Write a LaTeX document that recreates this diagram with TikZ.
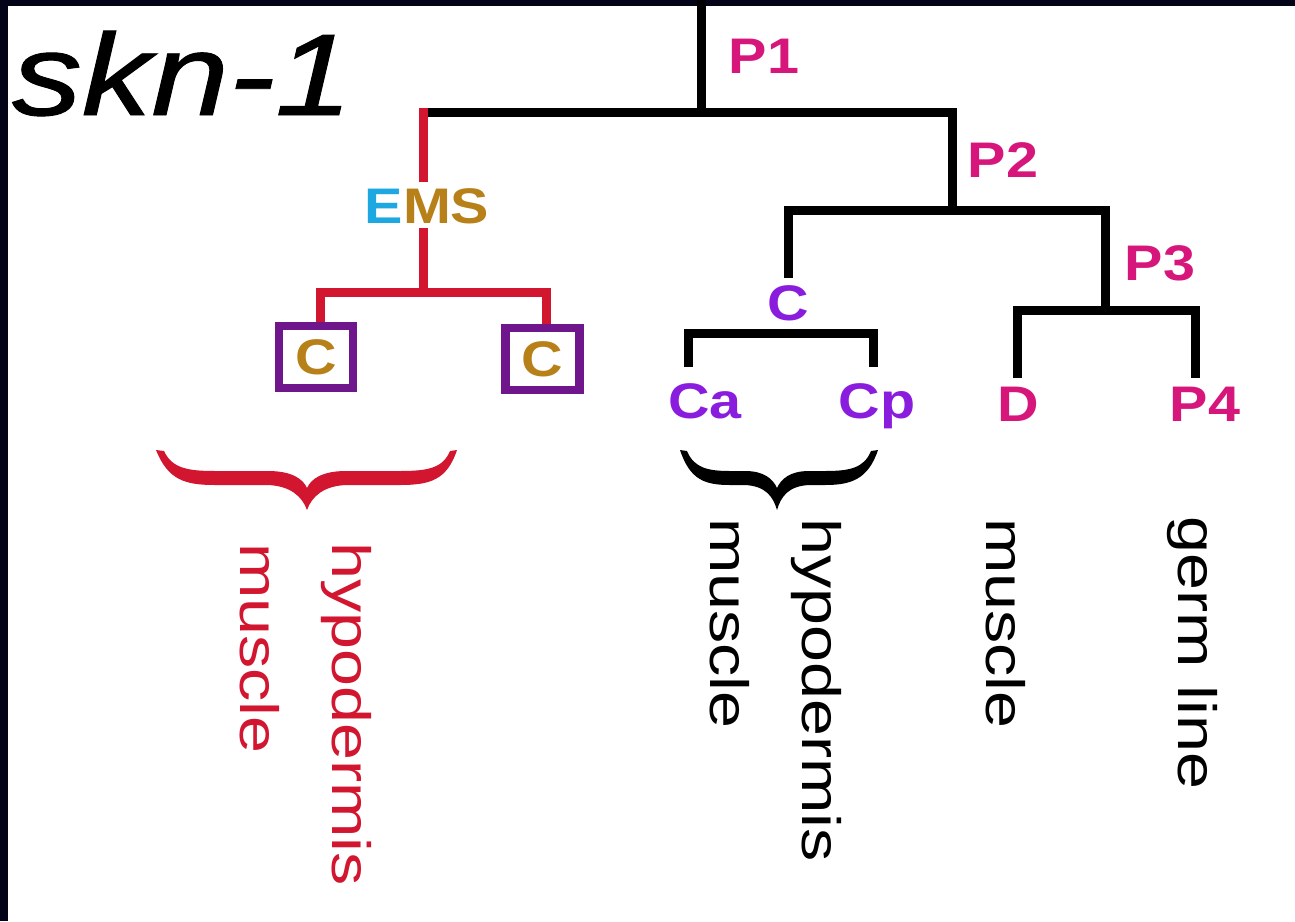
\documentclass[tikz,border=0pt]{standalone}
\usepackage{fontspec}
\setmainfont{Liberation Sans}
\newfontfamily\skfont{Liberation Sans}[FakeBold=0.8]
\usepackage{graphicx}
\definecolor{navy}{RGB}{4,4,24}
\definecolor{mag}{RGB}{214,22,122}
\definecolor{vio}{RGB}{138,28,222}
\definecolor{boxp}{RGB}{112,22,140}
\definecolor{gold}{RGB}{184,128,24}
\definecolor{cyanE}{RGB}{30,168,226}
\definecolor{redl}{RGB}{210,22,48}
\newcommand{\hs}[1]{\scalebox{1.15}[1]{#1}}
\newcommand{\vs}[1]{\scalebox{1.23}[1]{#1}}
\begin{document}
\begin{tikzpicture}[x=1pt,y=-1pt,
  bl/.style={line width=9pt, draw=black},
  rl/.style={line width=9pt, draw=redl},
  lab/.style={inner sep=0pt, anchor=base, font=\fontsize{50}{56}\selectfont\bfseries},
  vt/.style={inner sep=0pt, anchor=base west, rotate=-90, font=\fontsize{54}{60}\selectfont},
  cbox/.style={draw=boxp, line width=8.5pt, minimum width=74pt, minimum height=62pt, inner sep=0pt, text=gold, font=\fontsize{50}{56}\selectfont\bfseries}
]
\useasboundingbox (0,0) rectangle (1295,921);
\fill[white] (0,0) rectangle (1295,921);
\fill[navy] (0,0) rectangle (1295,6);
\fill[navy] (0,0) rectangle (8,921);

% title
\node[inner sep=0pt, anchor=base west, font=\fontsize{116}{120}\selectfont\skfont\itshape] (title) at (12,115) {\scalebox{1.2}[1]{skn-1}};

% labels
\node[lab, text=mag] (P1) at (764,73) {\hs{P1}};
\node[lab, text=mag] (P2) at (1003,177) {\hs{P2}};
\node[lab, text=mag] (P3) at (1160,280) {\hs{P3}};
\node[lab, text=vio] (C) at (788,320) {\hs{C}};
\node[lab, text=vio] (Ca) at (705,418) {\hs{Ca}};
\node[lab, text=vio] (Cp) at (877,418) {\hs{Cp}};
\node[lab, text=mag] (D) at (1018,421) {\hs{D}};
\node[lab, text=mag] (P4) at (1205,421) {\hs{P4}};
\node[lab] (EMS) at (427,223) {\hs{\textcolor{cyanE}{E}\textcolor{gold}{MS}}};
\node[cbox] (boxL) at (316,357) {\hs{C}};
\node[cbox] (boxR) at (542.5,359) {\hs{C}};

% black tree
\coordinate (rootT) at (701,0);
\coordinate (rootJ) at (701,112);
\coordinate (aL) at (427,112);
\coordinate (aR) at (952,112);
\coordinate (bJ) at (952,210);
\coordinate (bL) at (788,210);
\coordinate (bR) at (1105,210);
\coordinate (cT) at (788,278);
\coordinate (dJ) at (1105,310);
\coordinate (dL) at (1017,310);
\coordinate (dR) at (1195,310);
\coordinate (dLe) at (1017,378);
\coordinate (dRe) at (1195,378);
\coordinate (eL) at (688,333);
\coordinate (eR) at (873,333);
\coordinate (eLe) at (688,367);
\coordinate (eRe) at (873,367);
\draw[bl] (rootT) -- (rootJ);
\draw[bl] (aL) -- (aR) -- (bJ);
\draw[bl] (cT) -- (bL) -- (bR) -- (dJ);
\draw[bl] (dLe) -- (dL) -- (dR) -- (dRe);
\draw[bl] (eLe) -- (eL) -- (eR) -- (eRe);

% red tree
\coordinate (rT) at (423,107.5);
\coordinate (rEa) at (423,182);
\coordinate (rEb) at (423,228);
\coordinate (rJ) at (423,292);
\coordinate (rLL) at (320,292);
\coordinate (rRR) at (546,292);
\draw[rl] (rT) -- (rEa);
\draw[rl] (rEb) -- (rJ);
\draw[rl] (boxL.north -| rLL) -- (rLL) -- (rRR) -- (boxR.north -| rRR);

% braces
\fill[redl] (156,450) .. controls (168,480) and (185,485) .. (215,485) -- (268,485)
  .. controls (290,486) and (302,496) .. (307,510)
  .. controls (312,496) and (324,486) .. (346,485) -- (400,485)
  .. controls (430,485) and (447,480) .. (457,450) -- (450,451)
  .. controls (443,468) and (428,471) .. (400,471) -- (346,471)
  .. controls (322,471) and (311,479) .. (307,488)
  .. controls (303,479) and (292,471) .. (268,471) -- (215,471)
  .. controls (187,471) and (172,468) .. (164,451) -- cycle;
\fill[black] (680,450) .. controls (690,480) and (705,485) .. (730,485) -- (745,485)
  .. controls (765,486) and (773,496) .. (777,510)
  .. controls (781,496) and (789,486) .. (809,485) -- (825,485)
  .. controls (850,485) and (868,480) .. (878,450) -- (871,451)
  .. controls (864,468) and (850,471) .. (825,471) -- (809,471)
  .. controls (790,471) and (781,479) .. (777,488)
  .. controls (773,479) and (764,471) .. (745,471) -- (730,471)
  .. controls (708,471) and (694,468) .. (687,451) -- cycle;

% rotated texts
\node[vt, text=redl] (rmus) at (240,543) {\vs{muscle}};
\node[vt, text=redl] (rhyp) at (332,542) {\vs{hypodermis}};
\node[vt] (bmus) at (710,518) {\vs{muscle}};
\node[vt] (bhyp) at (802,518) {\vs{hypodermis}};
\node[vt] (dmus) at (986,518) {\vs{muscle}};
\node[vt] (germ) at (1178,516) {\vs{germ line}};
\end{tikzpicture}
\end{document}
